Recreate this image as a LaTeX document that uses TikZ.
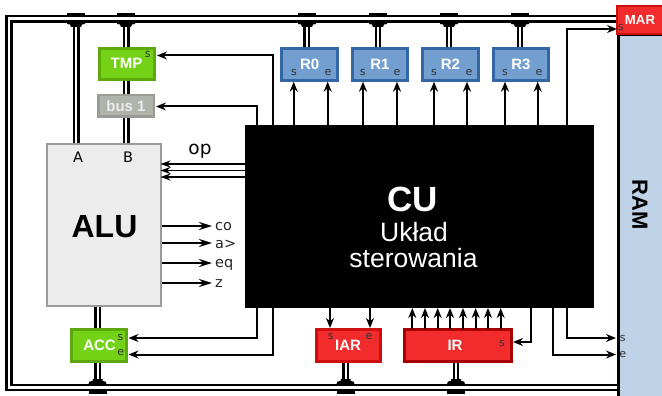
\documentclass[tikz,border=0pt]{standalone}
\usepackage{fontspec}
\setmainfont{Liberation Sans}
\newfontfamily\djv{DejaVu Sans}
\usetikzlibrary{arrows.meta}
\definecolor{gfill}{HTML}{73D216}\definecolor{gline}{HTML}{5CA80E}
\definecolor{rfill}{HTML}{F22C2C}\definecolor{rline}{HTML}{CC0F0F}\definecolor{rdark}{HTML}{A80000}
\definecolor{bfill}{HTML}{729FCF}\definecolor{bline}{HTML}{3465A4}
\definecolor{hfill}{HTML}{B0B2AC}\definecolor{hline}{HTML}{999B95}
\definecolor{ramfill}{HTML}{BFD3E8}\definecolor{alufill}{HTML}{ECECEC}\definecolor{aluline}{HTML}{9A9A96}
\tikzset{
 reg/.style={draw,line width=3pt,font=\bfseries\fontsize{15}{15}\selectfont,text=white,inner sep=0pt,outer sep=0pt},
 greenreg/.style={reg,fill=gfill,draw=gline},
 redreg/.style={reg,fill=rfill,draw=rline},
 bluereg/.style={reg,fill=bfill,draw=bline},
 grayreg/.style={reg,fill=hfill,draw=hline,text=alufill},
 port/.style={font=\djv\fontsize{11}{11}\selectfont,inner sep=0pt,text=black!80},
 outlab/.style={font=\djv\fontsize{14.5}{14.5}\selectfont,inner sep=0pt,anchor=west,text=black!85},
 sig/.style={line width=2pt,-{Stealth[length=10pt,width=8pt]}},
 bus/.style={line width=2.4pt},
 tapbar/.style={line width=2.4pt},
 tapfoot/.style={fill=black},
}
\begin{document}
\begin{tikzpicture}[x=1pt,y=-1pt]
\useasboundingbox (0,0) rectangle (662,396);
% memory
\node[draw=black,line width=3pt,fill=ramfill,minimum width=46pt,minimum height=364pt,inner sep=0pt,outer sep=0pt] (ram) at (641,217) {};
\node[font=\bfseries\fontsize{22}{22}\selectfont,rotate=-90,inner sep=0pt] (ramtext) at (640,205) {RAM};
% buses
\coordinate (busOutTR) at (617,16); \coordinate (busOutBL) at (6.5,390);
\coordinate (busInTR) at (617,21.5); \coordinate (busInBL) at (11.5,385);
\draw[bus] (busOutTR) -| (busOutBL) -- (busOutBL -| busOutTR);
\draw[bus] (busInTR) -| (busInBL) -- (busInBL -| busInTR);
% top taps
\foreach \x in {76,126,307,378,449,520}{
 \draw[tapbar] (\x-9,14) -- (\x+9,14);
 \fill[tapfoot] (\x-9,22) -- (\x+9,22) -- (\x+9,24) -- (\x+6,24.5) -- (\x+5,27) -- (\x-5,27) -- (\x-6,24.5) -- (\x-9,24) -- cycle;
}
% bottom taps
\foreach \x in {97.5,345.5,456}{
 \draw[tapbar] (\x-9,392.5) -- (\x+9,392.5);
 \fill[tapfoot] (\x-9,384) -- (\x+9,384) -- (\x+8,381.5) -- (\x+5,381) -- (\x+5,379) -- (\x-5,379) -- (\x-5,381) -- (\x-8,381.5) -- cycle;
}
% ALU, CU
\node[draw=aluline,fill=alufill,line width=2pt,minimum width=114pt,minimum height=162pt,inner sep=0pt,outer sep=0pt] (alu) at (103.5,225) {};
\node[font=\bfseries\fontsize{32}{32}\selectfont,inner sep=0pt,anchor=base] (alutext) at (104.5,237) {ALU};
\node[font=\djv\fontsize{14.5}{14.5}\selectfont,inner sep=0pt] (aluA) at (78,157) {A};
\node[font=\djv\fontsize{14.5}{14.5}\selectfont,inner sep=0pt] (aluB) at (128,157) {B};
\node[fill=black,minimum width=349.5pt,minimum height=182.5pt,inner sep=0pt,outer sep=0pt] (cu) at (419.25,216.75) {};
\node[text=white,inner sep=0pt,anchor=base,font=\bfseries\fontsize{35}{35}\selectfont] (cutext) at (413,211) {CU};
\node[text=white,inner sep=0pt,anchor=base,font=\fontsize{26.5}{26.5}\selectfont] (cutext2) at (414,241) {Układ};
\node[text=white,inner sep=0pt,anchor=base,font=\fontsize{26.5}{26.5}\selectfont] (cutext3) at (413.5,267) {sterowania};
% registers
\node[greenreg,minimum width=55pt,minimum height=31pt] (tmp) at (127,64) {};
\node[inner sep=0pt,text=white,font=\bfseries\fontsize{15}{15}\selectfont] (tmptext) at (126.5,63) {TMP};
\node[grayreg,line width=2.5pt,minimum width=55.5pt,minimum height=21.5pt] (bus1) at (126,106) {bus 1};
\node[greenreg,minimum width=55pt,minimum height=32pt] (acc) at (99.2,345.5) {};
\node[inner sep=0pt,text=white,font=\bfseries\fontsize{15}{15}\selectfont] (acctext) at (99.5,345.5) {ACC};
\foreach \n/\t/\x in {r0/R0/309.7,r1/R1/380,r2/R2/450.5,r3/R3/521}
 \node[bluereg,minimum width=55.5pt,minimum height=31.5pt] (\n) at (\x,64.5) {\t};
\node[redreg,minimum width=64pt,minimum height=32pt] (iar) at (348.5,345.5) {\hspace*{-1pt}IAR};
\node[redreg,draw=rdark,minimum width=107pt,minimum height=32pt] (ir) at (458,345.5) {\hspace*{-6pt}IR};
\node[redreg,line width=2pt,minimum width=46pt,minimum height=28pt,anchor=north west,font=\bfseries\fontsize{13.2}{13.2}\selectfont] (mar) at (617,6) {MAR};
% data lines
\foreach \a in {74.2,78.3}{\draw[bus] (\a,22) -- (\a,143);}
\foreach \a in {124,128.3}{
 \draw[bus] (\a,22) -- (\a,47);
 \draw[bus] (\a,81) -- (\a,94);
 \draw[bus] (\a,118) -- (\a,143);}
\foreach \a in {95.3,100}{
 \draw[bus] (\a,307) -- (\a,328);
 \draw[bus] (\a,363) -- (\a,385);}
\foreach \x in {306.5,378,449,520}{
 \draw[bus] (\x-2.2,22) -- (\x-2.2,47);
 \draw[bus] (\x+2.2,22) -- (\x+2.2,47);}
\foreach \x in {345.5,456}{
 \draw[bus] (\x-2.2,363) -- (\x-2.2,385);
 \draw[bus] (\x+2.2,363) -- (\x+2.2,385);}
% port coordinates
\coordinate (cuTmp) at (272.5,126); \coordinate (tmpS) at (157,55.5);
\coordinate (cuB1) at (257,126); \coordinate (b1E) at (156,106.5);
\coordinate (cuAccS) at (257,308); \coordinate (accS) at (128.5,338);
\coordinate (cuAccE) at (272.7,308); \coordinate (accE) at (128.5,354.5);
\coordinate (cuMar) at (567,126); \coordinate (marS) at (617,29);
\coordinate (cuIr) at (530.7,308); \coordinate (irS) at (513,342);
\coordinate (cuRamS) at (567,308); \coordinate (ramS) at (616,338);
\coordinate (cuRamE) at (552.7,308); \coordinate (ramE) at (616,354.5);
% control lines
\draw[sig] (cuTmp) |- (tmpS);
\draw[sig] (cuB1) |- (b1E);
\draw[sig] (cuAccS) |- (accS);
\draw[sig] (cuAccE) |- (accE);
\draw[sig] (cuMar) |- (marS);
\draw[sig] (cuIr) |- (irS);
\draw[sig] (cuRamS) |- (ramS);
\draw[sig] (cuRamE) |- (ramE);
\foreach \x in {293.7,327.7,363,397,434,467,505,537.7}{
 \draw[sig] (\x,126) -- (\x,81.7);}
\foreach \x in {330,370}{\draw[sig] (\x,308) -- (\x,328);}
\foreach \x in {412.3,425,437.7,450,463,475.7,488,500.7}{\draw[sig] (\x,329) -- (\x,308);}
\foreach \y in {164,170.5,177}{\draw[line width=1.6pt,-{Stealth[length=10pt,width=7pt]}] (245,\y) -- (160.5,\y);}
% ALU outputs
\node[outlab] (co) at (215,227) {co};
\node[outlab] (agt) at (215,244) {a>};
\node[outlab] (eq) at (215,265) {eq};
\node[outlab] (zz) at (215,284) {z};
\foreach \t/\y in {co/226,agt/243,eq/263,zz/283}{\draw[line width=2.4pt,-{Stealth[length=13pt,width=8pt]}] (162,\y) -- ([xshift=-3pt]\t.west |- 0,\y);}
\node[font=\djv\fontsize{18.5}{18.5}\selectfont,inner sep=0pt] (op) at (200,151) {op};
% port letters
\node[port] (ps1) at (147.7,54) {s};
\node[port] (ps2) at (120.5,337.7) {s};
\node[port] (pe2) at (120.7,352.7) {e};
\foreach \x/\y in {294/328,362.7/397,434/469,505/539}{
 \node[port] at (\x,72.7) {s};
 \node[port] at (\y,72.7) {e};}
\node[port] (ps3) at (330.7,336.7) {s};
\node[port] (pe3) at (369,336) {e};
\node[port] (ps4) at (502,343) {s};
\node[port] (ps5) at (622.7,338) {s};
\node[port] (pe5) at (622.7,354) {e};
\node[port] (ps6) at (620.7,27) {s};
\end{tikzpicture}
\end{document}
